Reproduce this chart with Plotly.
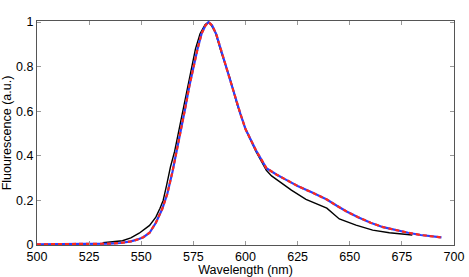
import plotly.graph_objects as go

# Measured spectrum (black)
wl_meas = [531.5, 536, 541, 545, 549, 554, 557, 559, 560.5, 562.2, 564, 566, 568, 570, 572,
           574.2, 576, 578.2, 580.6, 582.2, 583.5, 585.5, 588.5, 592.5, 596, 600, 605, 610,
           612.5, 616.5, 622, 629, 639, 645, 653, 661, 669, 680]
fl_meas = [0.010, 0.013, 0.019, 0.032, 0.053, 0.088, 0.125, 0.165, 0.20, 0.27, 0.35, 0.42,
           0.51, 0.60, 0.70, 0.805, 0.88, 0.948, 0.988, 1.0, 0.988, 0.955, 0.86, 0.75, 0.63,
           0.52, 0.42, 0.335, 0.31, 0.283, 0.246, 0.205, 0.165, 0.117, 0.089, 0.067, 0.055,
           0.045]

# Fitted spectra (blue and red, overlapping)
wl_fit = [500, 510, 520, 530, 535, 540, 545, 548, 551, 554, 557, 560, 562.5, 565, 567, 569,
          571, 573, 575, 577, 579, 580.8, 582.3, 584, 586, 589, 593, 597.5, 600, 605, 610,
          615, 620, 625, 632, 639, 644, 648.5, 654, 660, 666, 672.5, 678, 684, 689, 694]
fl_blue = [0.003, 0.003, 0.003, 0.004, 0.006, 0.009, 0.016, 0.024, 0.035, 0.055, 0.10, 0.16,
           0.23, 0.33, 0.42, 0.52, 0.61, 0.71, 0.80, 0.88, 0.95, 0.985, 1.0, 0.985, 0.945,
           0.85, 0.735, 0.59, 0.52, 0.425, 0.345, 0.315, 0.29, 0.265, 0.235, 0.204, 0.175,
           0.15, 0.125, 0.10, 0.08, 0.066, 0.055, 0.045, 0.039, 0.034]
fl_red = list(fl_blue)

x_ticks = [500, 525, 550, 575, 600, 625, 650, 675, 700]
y_ticks = [0, 0.2, 0.4, 0.6, 0.8, 1]
y_tick_labels = ["0", "0.2", "0.4", "0.6", "0.8", "1"]

FONT = "Liberation Sans, Arial"

fig = go.Figure()
fig.add_trace(go.Scatter(x=wl_meas, y=fl_meas, mode="lines",
                         line=dict(color="black", width=1.4), showlegend=False))
fig.add_trace(go.Scatter(x=wl_fit, y=fl_blue, mode="lines",
                         line=dict(color="#2a3fff", width=2.2), showlegend=False))
fig.add_trace(go.Scatter(x=wl_fit, y=fl_red, mode="lines",
                         line=dict(color="#ff2a1a", width=2.2, dash="4px,3px"), showlegend=False))

axis_common = dict(showgrid=False, zeroline=False, showline=True, linecolor="#555",
                   linewidth=1, mirror="ticks", ticks="inside", ticklen=4,
                   tickcolor="#999", automargin=False,
                   tickfont=dict(family=FONT, size=12.5, color="black"))
fig.update_layout(
    width=469, height=277,
    margin=dict(l=37, r=15, t=21, b=32),
    paper_bgcolor="white", plot_bgcolor="white",
    xaxis=dict(range=[500, 700], tickvals=x_ticks,
               title=dict(text="Wavelength (nm)", standoff=0,
                          font=dict(family=FONT, size=12.5, color="black")),
               **axis_common),
    yaxis=dict(range=[0, 1.005], tickvals=y_ticks, ticktext=y_tick_labels,
               title=dict(text="Fluourescence (a.u.)", standoff=2,
                          font=dict(family=FONT, size=12.5, color="black")),
               **axis_common),
)
fig.write_html("out.html", config={"displayModeBar": False},
               post_script="document.body.style.margin='0';document.body.style.overflow='hidden';")
